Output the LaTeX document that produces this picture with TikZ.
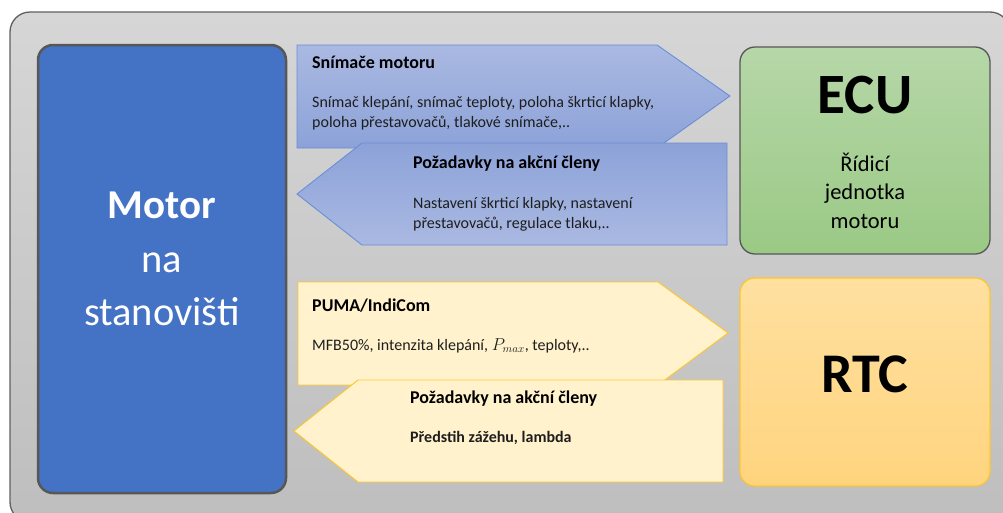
\documentclass[tikz,border=0pt]{standalone}
\usepackage{fontspec}
\setmainfont{Carlito}
\definecolor{frametop}{HTML}{D6D6D6}
\definecolor{framebot}{HTML}{BEBEBE}
\definecolor{frameline}{HTML}{606060}
\definecolor{motorblue}{HTML}{4472C4}
\definecolor{darkline}{HTML}{575757}
\definecolor{ecutop}{HTML}{B6D7A8}
\definecolor{ecubot}{HTML}{9AC985}
\definecolor{rtctop}{HTML}{FFE0A0}
\definecolor{rtcbot}{HTML}{FFD47E}
\definecolor{gold}{HTML}{FFC62A}
\definecolor{lightyellow}{HTML}{FFF2CC}
\definecolor{bluelight}{HTML}{AAB9E2}
\definecolor{bluedark}{HTML}{8CA2D8}
\definecolor{blueline}{HTML}{6A8ED6}
\definecolor{txt}{HTML}{1E1E1E}
\newcommand{\fs}[2]{\fontsize{#1}{#2}\selectfont}
\begin{document}
\begin{tikzpicture}[x=1pt,y=-1pt,
  frame/.style={draw=frameline, line width=1.3pt, rounded corners=20pt, top color=frametop, bottom color=framebot},
  motorbox/.style={draw=darkline, line width=2.5pt, rounded corners=15pt, fill=motorblue},
  ecubox/.style={draw=darkline, line width=1.3pt, rounded corners=15pt, top color=ecutop, bottom color=ecubot},
  rtcbox/.style={draw=gold, line width=1.2pt, rounded corners=15pt, top color=rtctop, bottom color=rtcbot},
  bluearrowR/.style={draw=blueline, line width=0.9pt, top color=bluelight, bottom color=bluedark},
  bluearrowL/.style={draw=blueline, line width=0.9pt, top color=bluedark, bottom color=bluelight},
  yarrow/.style={draw=gold, line width=0.9pt, fill=lightyellow},
  ttl/.style={anchor=base west, inner sep=0pt, text=black, font=\fs{18}{21}\bfseries},
  body/.style={anchor=base west, inner sep=0pt, text=txt, font=\fs{16}{19}},
  white text/.style={anchor=base, inner sep=0pt, text=white},
  boxtext/.style={anchor=base, inner sep=0pt, text=black}
]
\useasboundingbox (0,0) rectangle (1003,512);
\fill[white] (0,0) rectangle (1003,512);

% grey panel behind everything
\path[frame] (10,12) rectangle (1010,522);

% engine on the test bench
\path[motorbox] (38,45) rectangle (286,493);
\node[white text, font=\fs{41}{46}\bfseries] (motor1) at (162,218) {Motor};
\node[white text, font=\fs{40.5}{46}] (motor2) at (162,272) {na};
\node[white text, font=\fs{40.5}{46}] (motor3) at (162,325) {stanovišti};

% engine control unit
\path[ecubox] (740,47) rectangle (990,254);
\node[boxtext, font=\fs{57}{60}\bfseries] (ecu) at (865,113) {ECU};
\node[boxtext, font=\fs{22.5}{26}] (ecu1) at (865,171) {Řídicí};
\node[boxtext, font=\fs{22.5}{26}] (ecu2) at (865,199) {jednotka};
\node[boxtext, font=\fs{22.5}{26}] (ecu3) at (865,228) {motoru};

% real-time controller
\path[rtcbox] (740,278) rectangle (990,486);
\node[boxtext, font=\fs{56}{60}\bfseries] (rtc) at (865,392) {RTC};

% sensor signals going to the ECU
\path[bluearrowR] (297,45) -- (657,45) -- (730,96) -- (657,148) -- (297,148) -- cycle;
\node[ttl] (s1) at (312,68) {Snímače motoru};
\node[body] (s2) at (312,107) {Snímač klepání, snímač teploty, poloha škrticí klapky,};
\node[body] (s3) at (312,127) {poloha přestavovačů, tlakové snímače,..};

% actuator requests coming from the ECU
\path[bluearrowL] (362,143) -- (727,143) -- (727,245) -- (362,245) -- (297,194) -- cycle;
\node[ttl] (a1) at (413,168) {Požadavky na akční členy};
\node[body] (a2) at (413,208) {Nastavení škrticí klapky, nastavení};
\node[body] (a3) at (413,228) {přestavovačů, regulace tlaku,..};

% indication data going to the RTC
\path[yarrow] (298,282) -- (658,282) -- (728,333) -- (658,385) -- (298,385) -- cycle;
\node[ttl] (p1) at (312,311) {PUMA/IndiCom};
\node[body] (p2) at (312,350) {MFB50\%, intenzita klepání, $P_{max}$, teploty,..};

% actuator requests coming from the RTC
\path[yarrow] (358,380) -- (723,380) -- (723,482) -- (358,482) -- (294,431) -- cycle;
\node[ttl] (r1) at (410,403) {Požadavky na akční členy};
\node[body, font=\fs{16}{19}\bfseries] (r2) at (410,442) {Předstih zážehu, lambda};
\end{tikzpicture}
\end{document}
